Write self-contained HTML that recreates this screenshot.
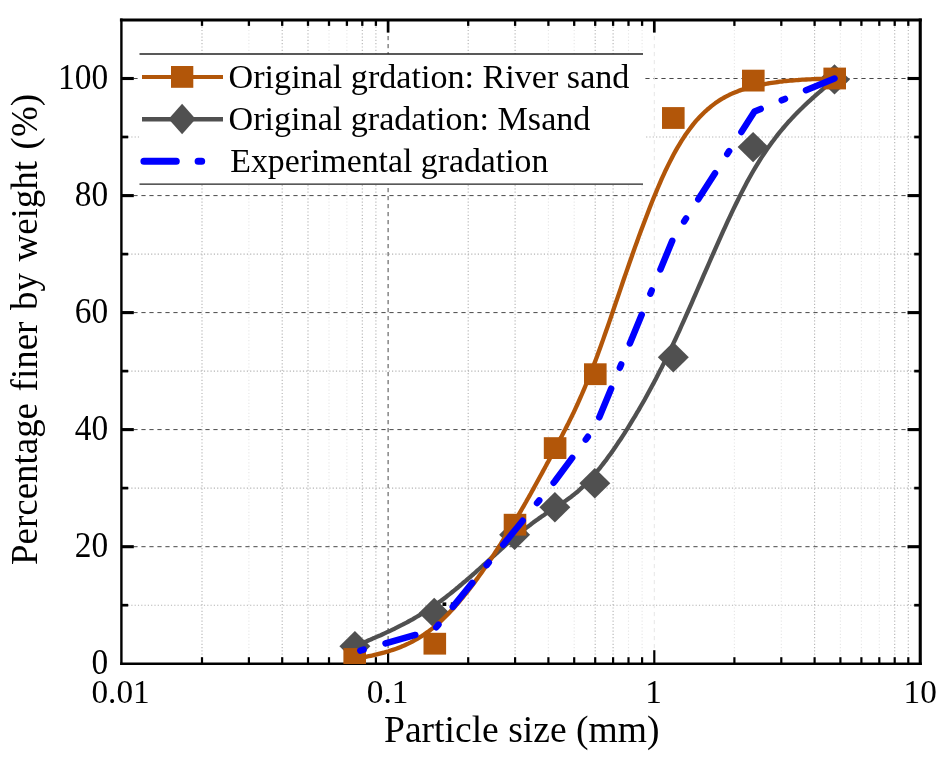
<!DOCTYPE html>
<html lang="en"><head><meta charset="utf-8"><title>Gradation curves</title>
<style>html,body{margin:0;padding:0;background:#fff}svg{display:block}text{font-family:"Liberation Serif","Times New Roman",serif;fill:#000}</style></head><body>
<svg width="944" height="757" viewBox="0 0 944 757">
<rect width="944" height="757" fill="#fff"/>
<g id="grid" fill="none">
<line x1="121.4" x2="920.2" y1="605.2" y2="605.2" stroke="#b4b4b4" stroke-width="1.1" stroke-dasharray="1.2 2.1"/>
<line x1="121.4" x2="920.2" y1="488.1" y2="488.1" stroke="#b4b4b4" stroke-width="1.1" stroke-dasharray="1.2 2.1"/>
<line x1="121.4" x2="920.2" y1="371.1" y2="371.1" stroke="#b4b4b4" stroke-width="1.1" stroke-dasharray="1.2 2.1"/>
<line x1="121.4" x2="920.2" y1="254.1" y2="254.1" stroke="#b4b4b4" stroke-width="1.1" stroke-dasharray="1.2 2.1"/>
<line x1="121.4" x2="920.2" y1="137.0" y2="137.0" stroke="#b4b4b4" stroke-width="1.1" stroke-dasharray="1.2 2.1"/>
<line x1="202.0" x2="202.0" y1="20.0" y2="663.7" stroke="#b4b4b4" stroke-width="1.1" stroke-dasharray="1.2 2.1"/>
<line x1="248.9" x2="248.9" y1="20.0" y2="663.7" stroke="#e6e6e6" stroke-width="1.1" stroke-dasharray="1.2 2.1"/>
<line x1="282.2" x2="282.2" y1="20.0" y2="663.7" stroke="#b4b4b4" stroke-width="1.1" stroke-dasharray="1.2 2.1"/>
<line x1="308.0" x2="308.0" y1="20.0" y2="663.7" stroke="#b4b4b4" stroke-width="1.1" stroke-dasharray="1.2 2.1"/>
<line x1="329.0" x2="329.0" y1="20.0" y2="663.7" stroke="#e6e6e6" stroke-width="1.1" stroke-dasharray="1.2 2.1"/>
<line x1="346.9" x2="346.9" y1="20.0" y2="663.7" stroke="#e6e6e6" stroke-width="1.1" stroke-dasharray="1.2 2.1"/>
<line x1="362.3" x2="362.3" y1="20.0" y2="663.7" stroke="#b4b4b4" stroke-width="1.1" stroke-dasharray="1.2 2.1"/>
<line x1="375.9" x2="375.9" y1="20.0" y2="663.7" stroke="#b4b4b4" stroke-width="1.1" stroke-dasharray="1.2 2.1"/>
<line x1="468.2" x2="468.2" y1="20.0" y2="663.7" stroke="#b4b4b4" stroke-width="1.1" stroke-dasharray="1.2 2.1"/>
<line x1="515.1" x2="515.1" y1="20.0" y2="663.7" stroke="#b4b4b4" stroke-width="1.1" stroke-dasharray="1.2 2.1"/>
<line x1="548.4" x2="548.4" y1="20.0" y2="663.7" stroke="#e6e6e6" stroke-width="1.1" stroke-dasharray="1.2 2.1"/>
<line x1="574.2" x2="574.2" y1="20.0" y2="663.7" stroke="#e6e6e6" stroke-width="1.1" stroke-dasharray="1.2 2.1"/>
<line x1="595.2" x2="595.2" y1="20.0" y2="663.7" stroke="#b4b4b4" stroke-width="1.1" stroke-dasharray="1.2 2.1"/>
<line x1="613.1" x2="613.1" y1="20.0" y2="663.7" stroke="#b4b4b4" stroke-width="1.1" stroke-dasharray="1.2 2.1"/>
<line x1="628.5" x2="628.5" y1="20.0" y2="663.7" stroke="#e6e6e6" stroke-width="1.1" stroke-dasharray="1.2 2.1"/>
<line x1="642.1" x2="642.1" y1="20.0" y2="663.7" stroke="#e6e6e6" stroke-width="1.1" stroke-dasharray="1.2 2.1"/>
<line x1="734.4" x2="734.4" y1="20.0" y2="663.7" stroke="#e6e6e6" stroke-width="1.1" stroke-dasharray="1.2 2.1"/>
<line x1="781.3" x2="781.3" y1="20.0" y2="663.7" stroke="#e6e6e6" stroke-width="1.1" stroke-dasharray="1.2 2.1"/>
<line x1="814.6" x2="814.6" y1="20.0" y2="663.7" stroke="#b4b4b4" stroke-width="1.1" stroke-dasharray="1.2 2.1"/>
<line x1="840.4" x2="840.4" y1="20.0" y2="663.7" stroke="#e6e6e6" stroke-width="1.1" stroke-dasharray="1.2 2.1"/>
<line x1="861.4" x2="861.4" y1="20.0" y2="663.7" stroke="#e6e6e6" stroke-width="1.1" stroke-dasharray="1.2 2.1"/>
<line x1="879.3" x2="879.3" y1="20.0" y2="663.7" stroke="#e6e6e6" stroke-width="1.1" stroke-dasharray="1.2 2.1"/>
<line x1="894.7" x2="894.7" y1="20.0" y2="663.7" stroke="#b4b4b4" stroke-width="1.1" stroke-dasharray="1.2 2.1"/>
<line x1="908.3" x2="908.3" y1="20.0" y2="663.7" stroke="#b4b4b4" stroke-width="1.1" stroke-dasharray="1.2 2.1"/>
<line x1="133.4" x2="920.2" y1="546.7" y2="546.7" stroke="#484848" stroke-width="1" stroke-dasharray="4.2 3.8"/>
<line x1="133.4" x2="920.2" y1="429.6" y2="429.6" stroke="#484848" stroke-width="1" stroke-dasharray="4.2 3.8"/>
<line x1="133.4" x2="920.2" y1="312.6" y2="312.6" stroke="#484848" stroke-width="1" stroke-dasharray="4.2 3.8"/>
<line x1="133.4" x2="920.2" y1="195.6" y2="195.6" stroke="#484848" stroke-width="1" stroke-dasharray="4.2 3.8"/>
<line x1="133.4" x2="920.2" y1="78.5" y2="78.5" stroke="#484848" stroke-width="1" stroke-dasharray="4.2 3.8"/>
<line x1="388.1" x2="388.1" y1="20.0" y2="663.7" stroke="#484848" stroke-width="1" stroke-dasharray="4.2 3.8"/>
<line x1="654.3" x2="654.3" y1="20.0" y2="663.7" stroke="#e6e6e6" stroke-width="1" stroke-dasharray="4.2 3.8"/>
</g>
<g id="axes" stroke="#000" fill="none">
<line x1="119.9" x2="921.8" y1="20.05" y2="20.05" stroke-width="3.1"/>
<line x1="120.2" x2="921.8" y1="663.75" y2="663.75" stroke-width="2.3"/>
<line x1="121.4" x2="121.4" y1="18.5" y2="664.9" stroke-width="2.4"/>
<line x1="920.25" x2="920.25" y1="18.5" y2="664.9" stroke-width="3.1"/>
<line x1="122" x2="128.2" y1="605.2" y2="605.2" stroke-width="2.7"/>
<line x1="919" x2="914.2" y1="605.2" y2="605.2" stroke-width="2.7"/>
<line x1="122" x2="133.79999999999998" y1="546.7" y2="546.7" stroke-width="3.1"/>
<line x1="919" x2="907.5" y1="546.7" y2="546.7" stroke-width="3.1"/>
<line x1="122" x2="128.2" y1="488.1" y2="488.1" stroke-width="2.7"/>
<line x1="919" x2="914.2" y1="488.1" y2="488.1" stroke-width="2.7"/>
<line x1="122" x2="133.79999999999998" y1="429.6" y2="429.6" stroke-width="3.1"/>
<line x1="919" x2="907.5" y1="429.6" y2="429.6" stroke-width="3.1"/>
<line x1="122" x2="128.2" y1="371.1" y2="371.1" stroke-width="2.7"/>
<line x1="919" x2="914.2" y1="371.1" y2="371.1" stroke-width="2.7"/>
<line x1="122" x2="133.79999999999998" y1="312.6" y2="312.6" stroke-width="3.1"/>
<line x1="919" x2="907.5" y1="312.6" y2="312.6" stroke-width="3.1"/>
<line x1="122" x2="128.2" y1="254.1" y2="254.1" stroke-width="2.7"/>
<line x1="919" x2="914.2" y1="254.1" y2="254.1" stroke-width="2.7"/>
<line x1="122" x2="133.79999999999998" y1="195.6" y2="195.6" stroke-width="3.1"/>
<line x1="919" x2="907.5" y1="195.6" y2="195.6" stroke-width="3.1"/>
<line x1="122" x2="128.2" y1="137.0" y2="137.0" stroke-width="2.7"/>
<line x1="919" x2="914.2" y1="137.0" y2="137.0" stroke-width="2.7"/>
<line x1="122" x2="133.79999999999998" y1="78.5" y2="78.5" stroke-width="3.1"/>
<line x1="919" x2="907.5" y1="78.5" y2="78.5" stroke-width="3.1"/>
<line x1="202.0" x2="202.0" y1="663" y2="657.2" stroke-width="2.2"/>
<line x1="202.0" x2="202.0" y1="21" y2="25.9" stroke-width="2.3"/>
<line x1="248.9" x2="248.9" y1="663" y2="657.2" stroke-width="2.2"/>
<line x1="248.9" x2="248.9" y1="21" y2="25.9" stroke-width="2.3"/>
<line x1="282.2" x2="282.2" y1="663" y2="657.2" stroke-width="2.2"/>
<line x1="282.2" x2="282.2" y1="21" y2="25.9" stroke-width="2.3"/>
<line x1="308.0" x2="308.0" y1="663" y2="657.2" stroke-width="2.2"/>
<line x1="308.0" x2="308.0" y1="21" y2="25.9" stroke-width="2.3"/>
<line x1="329.0" x2="329.0" y1="663" y2="657.2" stroke-width="2.2"/>
<line x1="329.0" x2="329.0" y1="21" y2="25.9" stroke-width="2.3"/>
<line x1="346.9" x2="346.9" y1="663" y2="657.2" stroke-width="2.2"/>
<line x1="346.9" x2="346.9" y1="21" y2="25.9" stroke-width="2.3"/>
<line x1="362.3" x2="362.3" y1="663" y2="657.2" stroke-width="2.2"/>
<line x1="362.3" x2="362.3" y1="21" y2="25.9" stroke-width="2.3"/>
<line x1="375.9" x2="375.9" y1="663" y2="657.2" stroke-width="2.2"/>
<line x1="375.9" x2="375.9" y1="21" y2="25.9" stroke-width="2.3"/>
<line x1="388.1" x2="388.1" y1="663" y2="650.2" stroke-width="2.2"/>
<line x1="388.1" x2="388.1" y1="21" y2="32.6" stroke-width="2.7"/>
<line x1="468.2" x2="468.2" y1="663" y2="657.2" stroke-width="2.2"/>
<line x1="468.2" x2="468.2" y1="21" y2="25.9" stroke-width="2.3"/>
<line x1="515.1" x2="515.1" y1="663" y2="657.2" stroke-width="2.2"/>
<line x1="515.1" x2="515.1" y1="21" y2="25.9" stroke-width="2.3"/>
<line x1="548.4" x2="548.4" y1="663" y2="657.2" stroke-width="2.2"/>
<line x1="548.4" x2="548.4" y1="21" y2="25.9" stroke-width="2.3"/>
<line x1="574.2" x2="574.2" y1="663" y2="657.2" stroke-width="2.2"/>
<line x1="574.2" x2="574.2" y1="21" y2="25.9" stroke-width="2.3"/>
<line x1="595.2" x2="595.2" y1="663" y2="657.2" stroke-width="2.2"/>
<line x1="595.2" x2="595.2" y1="21" y2="25.9" stroke-width="2.3"/>
<line x1="613.1" x2="613.1" y1="663" y2="657.2" stroke-width="2.2"/>
<line x1="613.1" x2="613.1" y1="21" y2="25.9" stroke-width="2.3"/>
<line x1="628.5" x2="628.5" y1="663" y2="657.2" stroke-width="2.2"/>
<line x1="628.5" x2="628.5" y1="21" y2="25.9" stroke-width="2.3"/>
<line x1="642.1" x2="642.1" y1="663" y2="657.2" stroke-width="2.2"/>
<line x1="642.1" x2="642.1" y1="21" y2="25.9" stroke-width="2.3"/>
<line x1="654.3" x2="654.3" y1="663" y2="650.2" stroke-width="2.2"/>
<line x1="654.3" x2="654.3" y1="21" y2="32.6" stroke-width="2.7"/>
<line x1="734.4" x2="734.4" y1="663" y2="657.2" stroke-width="2.2"/>
<line x1="734.4" x2="734.4" y1="21" y2="25.9" stroke-width="2.3"/>
<line x1="781.3" x2="781.3" y1="663" y2="657.2" stroke-width="2.2"/>
<line x1="781.3" x2="781.3" y1="21" y2="25.9" stroke-width="2.3"/>
<line x1="814.6" x2="814.6" y1="663" y2="657.2" stroke-width="2.2"/>
<line x1="814.6" x2="814.6" y1="21" y2="25.9" stroke-width="2.3"/>
<line x1="840.4" x2="840.4" y1="663" y2="657.2" stroke-width="2.2"/>
<line x1="840.4" x2="840.4" y1="21" y2="25.9" stroke-width="2.3"/>
<line x1="861.4" x2="861.4" y1="663" y2="657.2" stroke-width="2.2"/>
<line x1="861.4" x2="861.4" y1="21" y2="25.9" stroke-width="2.3"/>
<line x1="879.3" x2="879.3" y1="663" y2="657.2" stroke-width="2.2"/>
<line x1="879.3" x2="879.3" y1="21" y2="25.9" stroke-width="2.3"/>
<line x1="894.7" x2="894.7" y1="663" y2="657.2" stroke-width="2.2"/>
<line x1="894.7" x2="894.7" y1="21" y2="25.9" stroke-width="2.3"/>
<line x1="908.3" x2="908.3" y1="663" y2="657.2" stroke-width="2.2"/>
<line x1="908.3" x2="908.3" y1="21" y2="25.9" stroke-width="2.3"/>
</g>
<defs><clipPath id="pc"><rect x="122.6" y="21.6" width="796.1" height="642.3"/></clipPath></defs>
<g id="data" clip-path="url(#pc)">
<path d="M354.9,646.2 L356.9,645.4 L358.9,644.5 L360.8,643.7 L362.8,642.9 L364.8,642.0 L366.8,641.2 L368.8,640.3 L370.8,639.5 L372.7,638.6 L374.7,637.8 L376.7,636.9 L378.7,636.0 L380.7,635.2 L382.7,634.3 L384.6,633.4 L386.6,632.4 L388.6,631.5 L390.6,630.6 L392.6,629.6 L394.6,628.7 L396.6,627.7 L398.5,626.7 L400.5,625.7 L402.5,624.7 L404.5,623.6 L406.5,622.6 L408.5,621.5 L410.5,620.4 L412.5,619.3 L414.5,618.1 L416.4,617.0 L418.4,615.8 L420.4,614.6 L422.4,613.4 L424.4,612.1 L426.4,610.8 L428.4,609.5 L430.4,608.2 L432.4,606.9 L434.4,605.5 L436.4,604.1 L438.4,602.6 L440.4,601.2 L442.4,599.7 L444.4,598.2 L446.4,596.7 L448.3,595.1 L450.3,593.6 L452.3,592.0 L454.3,590.4 L456.2,588.8 L458.2,587.2 L460.2,585.5 L462.1,583.9 L464.0,582.2 L466.0,580.6 L467.9,578.9 L469.8,577.3 L471.7,575.6 L473.6,574.0 L475.5,572.3 L477.3,570.7 L479.2,569.0 L481.0,567.4 L482.8,565.7 L484.6,564.1 L486.4,562.5 L488.2,560.9 L489.9,559.3 L491.7,557.7 L493.4,556.2 L495.1,554.6 L496.8,553.1 L498.4,551.6 L500.1,550.1 L501.7,548.7 L503.3,547.3 L504.8,545.9 L506.4,544.5 L507.9,543.2 L509.4,541.9 L510.9,540.6 L512.3,539.3 L513.8,538.1 L515.2,536.9 L516.5,535.8 L517.9,534.6 L519.2,533.5 L520.6,532.5 L521.9,531.4 L523.1,530.4 L524.4,529.4 L525.6,528.4 L526.9,527.4 L528.1,526.5 L529.3,525.6 L530.5,524.7 L531.6,523.8 L532.8,522.9 L533.9,522.1 L535.0,521.3 L536.1,520.4 L537.2,519.7 L538.3,518.9 L539.4,518.1 L540.5,517.4 L541.6,516.6 L542.6,515.9 L543.7,515.2 L544.7,514.5 L545.7,513.8 L546.8,513.1 L547.8,512.4 L548.8,511.7 L549.8,511.1 L550.8,510.4 L551.8,509.7 L552.8,509.1 L553.8,508.4 L554.8,507.8 L555.8,507.2 L556.8,506.5 L557.8,505.9 L558.8,505.2 L559.9,504.6 L560.9,503.9 L561.9,503.3 L562.9,502.6 L563.9,501.9 L564.9,501.2 L566.0,500.5 L567.0,499.8 L568.1,499.0 L569.1,498.3 L570.2,497.5 L571.3,496.7 L572.3,495.8 L573.4,495.0 L574.5,494.1 L575.6,493.2 L576.8,492.3 L577.9,491.3 L579.1,490.3 L580.2,489.2 L581.4,488.1 L582.6,487.0 L583.8,485.8 L585.0,484.6 L586.3,483.4 L587.5,482.1 L588.8,480.8 L590.1,479.4 L591.4,477.9 L592.8,476.4 L594.1,474.9 L595.5,473.3 L596.9,471.6 L598.3,469.9 L599.8,468.1 L601.2,466.3 L602.7,464.4 L604.2,462.4 L605.8,460.4 L607.3,458.3 L608.9,456.1 L610.5,453.9 L612.2,451.6 L613.8,449.2 L615.5,446.8 L617.1,444.4 L618.8,441.8 L620.6,439.2 L622.3,436.6 L624.1,433.9 L625.8,431.1 L627.6,428.3 L629.4,425.4 L631.2,422.4 L633.0,419.4 L634.9,416.4 L636.7,413.2 L638.6,410.1 L640.5,406.8 L642.4,403.5 L644.3,400.2 L646.2,396.8 L648.1,393.3 L650.0,389.8 L651.9,386.2 L653.9,382.6 L655.8,378.9 L657.8,375.1 L659.7,371.3 L661.7,367.5 L663.6,363.6 L665.6,359.6 L667.6,355.6 L669.6,351.5 L671.5,347.4 L673.5,343.2 L675.5,339.0 L677.5,334.7 L679.5,330.4 L681.4,326.0 L683.4,321.6 L685.4,317.2 L687.4,312.7 L689.4,308.2 L691.4,303.7 L693.3,299.1 L695.3,294.6 L697.3,290.0 L699.3,285.4 L701.3,280.8 L703.3,276.2 L705.3,271.7 L707.3,267.1 L709.3,262.5 L711.3,257.9 L713.3,253.4 L715.3,248.8 L717.3,244.3 L719.3,239.8 L721.3,235.4 L723.3,230.9 L725.3,226.6 L727.3,222.2 L729.3,217.9 L731.3,213.6 L733.3,209.4 L735.3,205.3 L737.3,201.2 L739.3,197.1 L741.3,193.1 L743.3,189.2 L745.3,185.4 L747.3,181.6 L749.3,178.0 L751.4,174.3 L753.4,170.8 L755.4,167.4 L757.4,164.1 L759.4,160.8 L761.4,157.6 L763.5,154.5 L765.5,151.5 L767.5,148.6 L769.5,145.7 L771.5,142.9 L773.6,140.2 L775.6,137.5 L777.6,134.9 L779.6,132.4 L781.7,129.9 L783.7,127.5 L785.7,125.1 L787.7,122.8 L789.8,120.6 L791.8,118.4 L793.8,116.2 L795.9,114.1 L797.9,112.0 L799.9,110.0 L802.0,108.0 L804.0,106.0 L806.0,104.1 L808.1,102.2 L810.1,100.4 L812.1,98.5 L814.2,96.7 L816.2,94.9 L818.2,93.1 L820.3,91.4 L822.3,89.6 L824.3,87.9 L826.4,86.2 L828.4,84.5 L830.4,82.8 L832.5,81.1 L834.5,79.4" fill="none" stroke="#505050" stroke-width="4.3" stroke-linejoin="round"/>
<path d="M339.4,646.2 L354.9,631.0 L370.4,646.2 L354.9,661.4Z" fill="#505050"/>
<path d="M418.7,613.0 L434.2,597.8 L449.7,613.0 L434.2,628.2Z" fill="#505050"/>
<path d="M499.1,534.7 L514.6,519.5 L530.1,534.7 L514.6,549.9Z" fill="#505050"/>
<path d="M539.4,507.2 L554.9,492.0 L570.4,507.2 L554.9,522.4Z" fill="#505050"/>
<path d="M579.3,483.3 L594.8,468.1 L610.3,483.3 L594.8,498.5Z" fill="#505050"/>
<path d="M657.8,357.2 L673.3,342.0 L688.8,357.2 L673.3,372.4Z" fill="#505050"/>
<path d="M737.6,147.1 L753.1,131.9 L768.6,147.1 L753.1,162.3Z" fill="#505050"/>
<path d="M819.0,79.4 L834.5,64.2 L850.0,79.4 L834.5,94.6Z" fill="#505050"/>
<path d="M354.7,659.0 L356.7,658.6 L358.7,658.2 L360.7,657.8 L362.7,657.5 L364.7,657.1 L366.7,656.6 L368.7,656.2 L370.7,655.8 L372.7,655.4 L374.7,654.9 L376.7,654.4 L378.7,653.9 L380.7,653.4 L382.7,652.9 L384.7,652.4 L386.7,651.8 L388.7,651.2 L390.7,650.5 L392.7,649.9 L394.8,649.2 L396.8,648.5 L398.8,647.7 L400.8,646.9 L402.8,646.1 L404.8,645.2 L406.8,644.3 L408.8,643.4 L410.8,642.4 L412.8,641.3 L414.8,640.2 L416.8,639.1 L418.8,637.9 L420.8,636.7 L422.8,635.4 L424.8,634.0 L426.8,632.6 L428.8,631.2 L430.8,629.6 L432.8,628.1 L434.8,626.4 L436.8,624.7 L438.8,622.9 L440.8,621.1 L442.8,619.2 L444.8,617.3 L446.8,615.3 L448.8,613.2 L450.8,611.1 L452.8,609.0 L454.8,606.8 L456.7,604.5 L458.7,602.3 L460.6,600.0 L462.6,597.6 L464.5,595.2 L466.5,592.8 L468.4,590.4 L470.3,587.9 L472.2,585.4 L474.1,582.9 L475.9,580.4 L477.8,577.9 L479.6,575.3 L481.5,572.7 L483.3,570.1 L485.1,567.5 L486.9,565.0 L488.6,562.4 L490.4,559.8 L492.1,557.2 L493.8,554.6 L495.5,552.0 L497.2,549.4 L498.9,546.8 L500.5,544.3 L502.1,541.7 L503.7,539.2 L505.3,536.7 L506.8,534.2 L508.3,531.8 L509.8,529.3 L511.3,526.9 L512.7,524.5 L514.1,522.2 L515.5,519.9 L516.9,517.6 L518.3,515.3 L519.6,513.0 L520.9,510.8 L522.2,508.5 L523.5,506.3 L524.7,504.2 L526.0,502.0 L527.2,499.8 L528.4,497.7 L529.6,495.6 L530.8,493.5 L531.9,491.4 L533.1,489.4 L534.2,487.3 L535.3,485.3 L536.4,483.3 L537.5,481.3 L538.6,479.3 L539.7,477.3 L540.8,475.3 L541.8,473.4 L542.9,471.4 L543.9,469.5 L545.0,467.6 L546.0,465.6 L547.0,463.7 L548.1,461.8 L549.1,459.9 L550.1,458.0 L551.1,456.1 L552.1,454.2 L553.1,452.3 L554.1,450.4 L555.1,448.6 L556.1,446.7 L557.1,444.8 L558.1,442.9 L559.1,441.0 L560.1,439.1 L561.2,437.2 L562.2,435.3 L563.2,433.3 L564.2,431.3 L565.3,429.3 L566.3,427.3 L567.3,425.3 L568.4,423.2 L569.4,421.1 L570.5,418.9 L571.6,416.7 L572.7,414.4 L573.8,412.2 L574.9,409.8 L576.0,407.4 L577.1,405.0 L578.3,402.4 L579.4,399.9 L580.6,397.2 L581.8,394.5 L583.0,391.7 L584.2,388.9 L585.4,386.0 L586.6,383.0 L587.9,379.9 L589.2,376.7 L590.5,373.4 L591.8,370.1 L593.1,366.6 L594.5,363.1 L595.9,359.4 L597.3,355.7 L598.7,351.8 L600.1,347.9 L601.6,343.8 L603.1,339.6 L604.6,335.3 L606.1,331.0 L607.7,326.5 L609.3,321.9 L610.9,317.2 L612.5,312.5 L614.1,307.7 L615.8,302.8 L617.5,297.9 L619.2,292.9 L620.9,287.9 L622.6,282.8 L624.3,277.7 L626.1,272.6 L627.9,267.5 L629.7,262.3 L631.5,257.2 L633.3,252.0 L635.1,246.9 L637.0,241.7 L638.8,236.6 L640.7,231.5 L642.6,226.4 L644.5,221.4 L646.4,216.4 L648.3,211.4 L650.2,206.5 L652.1,201.7 L654.0,197.0 L656.0,192.3 L657.9,187.7 L659.9,183.1 L661.8,178.7 L663.8,174.4 L665.7,170.2 L667.7,166.1 L669.7,162.1 L671.7,158.2 L673.6,154.5 L675.6,150.9 L677.6,147.4 L679.6,144.1 L681.5,140.9 L683.5,137.8 L685.5,134.8 L687.5,132.0 L689.5,129.2 L691.5,126.6 L693.4,124.1 L695.4,121.7 L697.4,119.4 L699.4,117.3 L701.4,115.2 L703.4,113.2 L705.4,111.3 L707.4,109.5 L709.4,107.8 L711.4,106.1 L713.4,104.6 L715.4,103.1 L717.4,101.7 L719.4,100.4 L721.4,99.2 L723.4,98.0 L725.4,96.9 L727.4,95.8 L729.4,94.8 L731.4,93.9 L733.4,93.0 L735.4,92.2 L737.4,91.4 L739.4,90.6 L741.4,89.9 L743.5,89.3 L745.5,88.7 L747.5,88.1 L749.5,87.5 L751.5,87.0 L753.5,86.5 L755.6,86.0 L757.6,85.5 L759.6,85.1 L761.6,84.7 L763.6,84.3 L765.7,83.9 L767.7,83.5 L769.7,83.2 L771.7,82.9 L773.7,82.6 L775.8,82.3 L777.8,82.0 L779.8,81.7 L781.9,81.5 L783.9,81.2 L785.9,81.0 L787.9,80.8 L790.0,80.6 L792.0,80.5 L794.0,80.3 L796.1,80.1 L798.1,80.0 L800.1,79.8 L802.2,79.7 L804.2,79.6 L806.2,79.5 L808.3,79.4 L810.3,79.3 L812.3,79.2 L814.4,79.1 L816.4,79.0 L818.4,79.0 L820.5,78.9 L822.5,78.8 L824.5,78.8 L826.6,78.7 L828.6,78.7 L830.6,78.6 L832.7,78.6 L834.7,78.5" fill="none" stroke="#b25609" stroke-width="4.3" stroke-linejoin="round"/>
<rect x="343.4" y="648.1" width="22.6" height="21.8" fill="#b25609"/>
<rect x="423.5" y="632.8" width="22.6" height="21.8" fill="#b25609"/>
<rect x="503.7" y="513.8" width="22.6" height="21.8" fill="#b25609"/>
<rect x="543.8" y="437.2" width="22.6" height="21.8" fill="#b25609"/>
<rect x="584.0" y="363.3" width="22.6" height="21.8" fill="#b25609"/>
<rect x="662.0" y="107.1" width="22.6" height="21.8" fill="#b25609"/>
<rect x="742.0" y="69.7" width="22.6" height="21.8" fill="#b25609"/>
<rect x="823.4" y="67.6" width="22.6" height="21.8" fill="#b25609"/>
<rect x="442.5" y="602.4" width="3.8" height="3.6" fill="#000"/><rect x="450.8" y="602.4" width="3.8" height="3.6" fill="#000"/>
<path id="blue" d="M354.5,652.3 L434.5,629.5 L514.7,530.5 L555.0,481.0 L595.5,426.5 L673.2,238.5 L754.5,111.5 L834.5,78.5" fill="none" stroke="#0000ff" stroke-width="6.5" stroke-linecap="round" stroke-linejoin="round" stroke-dasharray="3.5 22.75 31 22.75" stroke-dashoffset="74"/>
</g>
<g id="legend">
<rect x="139.5" y="54" width="505" height="130" fill="#fff"/>
<line x1="139.5" x2="643" y1="54" y2="54" stroke="#222" stroke-width="1.4"/>
<line x1="139.5" x2="643" y1="184.1" y2="184.1" stroke="#222" stroke-width="1.4"/>
<line x1="142" x2="223" y1="77" y2="77" stroke="#b25609" stroke-width="4.2"/>
<rect x="171" y="66" width="22.3" height="21.8" fill="#b25609"/>
<line x1="142" x2="223" y1="119.3" y2="119.3" stroke="#505050" stroke-width="4.4"/>
<path d="M168.6,119 L182.1,103.8 L195.6,119 L182.1,134.2Z" fill="#505050"/>
<path d="M143.9,161.2 H176.3 M198.1,161.2 H201.7" stroke="#0000ff" stroke-width="7" stroke-linecap="round" fill="none"/>
<text x="228.6" y="88.0" font-size="33.5" textLength="400.8" lengthAdjust="spacingAndGlyphs">Original grdation: River sand</text>
<text x="228.6" y="130.2" font-size="33.5" textLength="361.8" lengthAdjust="spacingAndGlyphs">Original gradation: Msand</text>
<text x="230.3" y="172.2" font-size="33.5" textLength="318.1" lengthAdjust="spacingAndGlyphs">Experimental gradation</text>
</g>
<g id="ticklabels">
<text transform="translate(108.2,674.0) scale(0.95,1)" font-size="35.2" text-anchor="end">0</text>
<text transform="translate(108.2,557.0) scale(0.95,1)" font-size="35.2" text-anchor="end">20</text>
<text transform="translate(108.2,439.9) scale(0.95,1)" font-size="35.2" text-anchor="end">40</text>
<text transform="translate(108.2,322.9) scale(0.95,1)" font-size="35.2" text-anchor="end">60</text>
<text transform="translate(108.2,205.9) scale(0.95,1)" font-size="35.2" text-anchor="end">80</text>
<text transform="translate(108.2,88.8) scale(0.95,1)" font-size="35.2" text-anchor="end">100</text>
<text transform="translate(120.6,703.3) scale(0.985,1)" font-size="33.8" text-anchor="middle">0.01</text>
<text transform="translate(387.6,703.3) scale(0.985,1)" font-size="33.8" text-anchor="middle">0.1</text>
<text transform="translate(653.6,703.3) scale(0.985,1)" font-size="33.8" text-anchor="middle">1</text>
<text transform="translate(920.2,703.3) scale(0.985,1)" font-size="33.8" text-anchor="middle">10</text>
</g>
<text x="384" y="742.4" font-size="37.4" textLength="275.5" lengthAdjust="spacingAndGlyphs">Particle size (mm)</text>
<text transform="translate(37.2,565) rotate(-90)" font-size="37.4" word-spacing="2.4" textLength="471" lengthAdjust="spacingAndGlyphs">Percentage finer by weight (%)</text>
</svg></body></html>
